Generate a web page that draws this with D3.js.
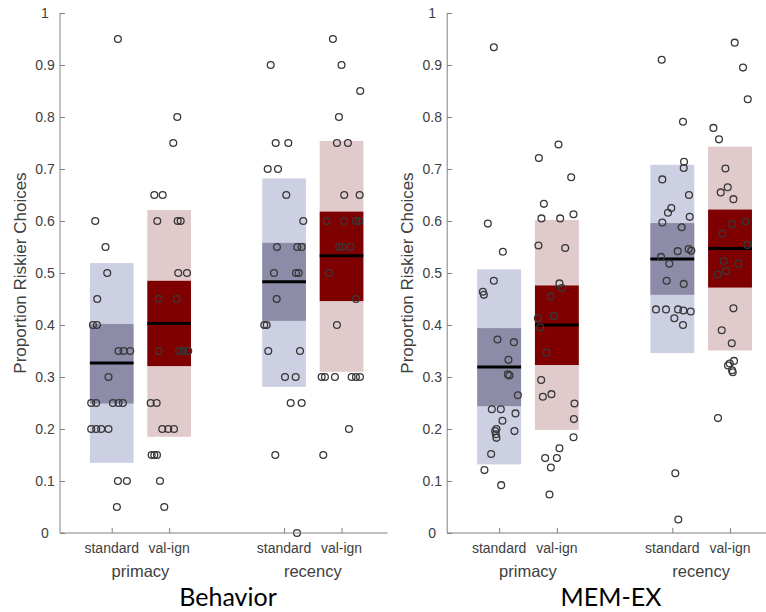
<!DOCTYPE html>
<html>
<head>
<meta charset="utf-8">
<script src="https://cdn.jsdelivr.net/npm/d3@7"></script>
<style>
  body { margin: 0; background: #fff; }
  svg { display: block; }
  svg text { font-family: "Liberation Sans", Arial, sans-serif; }
</style>
</head>
<body>
<svg id="chart" width="766" height="612"></svg>
<script>
// conditions in plotting order (x = 1, 2, 4, 5)
const conditions = ['standard', 'val-ign', 'standard', 'val-ign'];
const xPositions = [1, 2, 4, 5];
const groupLabels = ['primacy', 'recency'];
const groupCenters = [1.5, 4.5];
const yTicks = [0, 0.1, 0.2, 0.3, 0.4, 0.5, 0.6, 0.7, 0.8, 0.9, 1];

// Behavior: mean, inner band, outer band per condition
const behaviorMean = [0.327, 0.403, 0.483, 0.533];
const behaviorInner = [[0.249, 0.402], [0.321, 0.485], [0.408, 0.558], [0.446, 0.618]];
const behaviorOuter = [[0.135, 0.519], [0.185, 0.621], [0.281, 0.682], [0.310, 0.754]];

// MEM-EX
const memexMean = [0.319, 0.400, 0.527, 0.547];
const memexInner = [[0.244, 0.394], [0.323, 0.476], [0.458, 0.596], [0.472, 0.622]];
const memexOuter = [[0.132, 0.507], [0.198, 0.602], [0.346, 0.708], [0.351, 0.743]];

// individual subjects: [jittered x, proportion]
const behaviorPoints = [
  // standard / primacy
  [1.108, 0.95], [0.713, 0.6], [0.892, 0.55], [0.922, 0.5], [0.748, 0.45], [0.673, 0.4], [0.743, 0.4],
  [1.118, 0.35], [1.205, 0.35], [1.322, 0.35], [0.944, 0.3], [0.643, 0.25], [0.730, 0.25], [1.021, 0.25],
  [1.118, 0.25], [1.195, 0.25], [0.643, 0.2], [0.730, 0.2], [0.817, 0.2], [0.944, 0.2], [1.108, 0.1],
  [1.264, 0.1], [1.09, 0.05],
  // val-ign / primacy
  [2.141, 0.8], [2.071, 0.75], [1.741, 0.65], [1.887, 0.65], [1.793, 0.6], [2.148, 0.6], [2.2, 0.6],
  [2.158, 0.5], [2.31, 0.5], [1.817, 0.45], [2.131, 0.45], [1.817, 0.35], [2.176, 0.35], [2.245, 0.35],
  [2.332, 0.35], [1.678, 0.25], [1.782, 0.25], [1.88, 0.2], [1.984, 0.2], [2.084, 0.2], [1.695, 0.15],
  [1.741, 0.15], [1.788, 0.15], [1.84, 0.1], [1.915, 0.05],
  // standard / recency
  [3.767, 0.9], [3.854, 0.75], [4.073, 0.75], [3.715, 0.7], [3.894, 0.7], [4.038, 0.65], [4.334, 0.6],
  [3.876, 0.55], [4.23, 0.55], [4.306, 0.55], [3.824, 0.5], [4.207, 0.5], [4.254, 0.5], [3.871, 0.45],
  [3.655, 0.4], [3.697, 0.4], [3.725, 0.35], [4.277, 0.35], [4.016, 0.3], [4.202, 0.3], [4.115, 0.25],
  [4.306, 0.25], [3.847, 0.15], [4.225, 0.0],
  // val-ign / recency
  [4.85, 0.95], [5.0, 0.9], [5.325, 0.85], [4.955, 0.8], [4.92, 0.75], [5.111, 0.75], [5.047, 0.65],
  [5.315, 0.65], [4.741, 0.6], [5.047, 0.6], [5.251, 0.6], [5.308, 0.6], [4.96, 0.55], [5.019, 0.55],
  [5.158, 0.55], [4.781, 0.5], [5.251, 0.45], [4.92, 0.4], [4.654, 0.3], [4.711, 0.3], [4.885, 0.3],
  [5.176, 0.3], [5.251, 0.3], [5.32, 0.3], [5.129, 0.2], [4.682, 0.15]
];

const memexPoints = [
  // standard / primacy
  [0.908, 0.934], [0.804, 0.595], [1.064, 0.541], [0.908, 0.485], [0.718, 0.464], [0.735, 0.458],
  [0.971, 0.372], [1.255, 0.367], [1.161, 0.333], [1.151, 0.305], [1.179, 0.303], [1.324, 0.265],
  [0.873, 0.238], [1.029, 0.238], [1.283, 0.230], [1.057, 0.216], [0.953, 0.2], [0.931, 0.196],
  [0.943, 0.19], [0.953, 0.183], [1.265, 0.196], [0.861, 0.152], [0.745, 0.121], [1.035, 0.092],
  // val-ign / primacy
  [2.028, 0.747], [1.688, 0.721], [2.248, 0.684], [1.775, 0.633], [1.733, 0.605], [2.057, 0.605],
  [2.288, 0.613], [1.681, 0.553], [2.144, 0.548], [2.045, 0.48], [2.087, 0.471], [1.896, 0.455],
  [1.948, 0.417], [1.671, 0.413], [1.711, 0.395], [1.82, 0.347], [1.728, 0.294], [1.757, 0.262],
  [1.906, 0.267], [2.305, 0.249], [2.295, 0.219], [2.288, 0.184], [2.045, 0.163], [1.797, 0.144],
  [2.0, 0.144], [1.896, 0.126], [1.872, 0.074],
  // standard / recency
  [3.816, 0.91], [4.185, 0.791], [4.203, 0.714], [4.198, 0.702], [3.827, 0.68], [4.289, 0.65],
  [3.983, 0.625], [3.925, 0.616], [4.302, 0.608], [3.827, 0.597], [4.163, 0.588], [4.284, 0.546],
  [4.329, 0.543], [4.094, 0.542], [3.804, 0.531], [3.948, 0.518], [3.903, 0.485], [4.198, 0.479],
  [3.717, 0.43], [3.891, 0.43], [4.099, 0.43], [4.191, 0.428], [4.319, 0.426], [4.035, 0.413],
  [4.185, 0.4], [4.052, 0.115], [4.104, 0.026],
  // val-ign / recency
  [5.081, 0.943], [5.225, 0.895], [5.307, 0.834], [4.712, 0.779], [4.809, 0.757], [4.92, 0.701],
  [4.96, 0.665], [4.839, 0.655], [5.059, 0.642], [5.267, 0.599], [5.035, 0.594], [4.868, 0.576],
  [5.302, 0.554], [4.891, 0.523], [5.146, 0.518], [4.931, 0.504], [4.787, 0.497], [5.059, 0.432],
  [4.856, 0.39], [5.03, 0.365], [5.069, 0.331], [4.995, 0.326], [4.965, 0.322], [5.035, 0.313],
  [5.047, 0.309], [4.792, 0.221]
];

const panels = [
  { title: 'Behavior', mean: behaviorMean, inner: behaviorInner, outer: behaviorOuter, points: behaviorPoints,
    x0: 60, x1: 387.5, titleX: 228 },
  { title: 'MEM-EX', mean: memexMean, inner: memexInner, outer: memexOuter, points: memexPoints,
    x0: 447.2, x1: 776.2, titleX: 611 }
];

const outerColor = ['#cdcfe2', '#e0cacc'];
const innerColor = ['#8d8ca8', '#7f0000'];
const boxHalf = 0.38;
const textColor = '#404040';
const axisColor = '#808080';

const svg = d3.select('#chart');
const y = d3.scaleLinear().domain([0, 1]).range([533, 13]);

panels.forEach(p => {
  const x = d3.scaleLinear().domain([0.1, 5.8]).range([p.x0, p.x1]);
  const g = svg.append('g');

  // outer (light) bands
  g.selectAll('rect.outer')
    .data(xPositions)
    .enter()
    .append('rect')
    .attr('x', (d) => x(d - boxHalf))
    .attr('width', (d) => x(d + boxHalf) - x(d - boxHalf))
    .attr('y', (d, i) => y(p.outer[i][1]))
    .attr('height', (d, i) => y(p.outer[i][0]) - y(p.outer[i][1]))
    .attr('fill', (d, i) => outerColor[i % 2]);

  // inner (dark) bands
  g.selectAll('rect.inner')
    .data(xPositions)
    .enter()
    .append('rect')
    .attr('x', (d) => x(d - boxHalf))
    .attr('width', (d) => x(d + boxHalf) - x(d - boxHalf))
    .attr('y', (d, i) => y(p.inner[i][1]))
    .attr('height', (d, i) => y(p.inner[i][0]) - y(p.inner[i][1]))
    .attr('fill', (d, i) => innerColor[i % 2]);

  // mean lines
  g.selectAll('line.mean')
    .data(xPositions)
    .enter()
    .append('line')
    .attr('x1', (d) => x(d - boxHalf))
    .attr('x2', (d) => x(d + boxHalf))
    .attr('y1', (d, i) => y(p.mean[i]))
    .attr('y2', (d, i) => y(p.mean[i]))
    .attr('stroke', '#000')
    .attr('stroke-width', 3);

  // subjects
  g.selectAll('circle')
    .data(p.points)
    .enter()
    .append('circle')
    .attr('cx', (d) => x(d[0]))
    .attr('cy', (d) => y(d[1]))
    .attr('r', 3.4)
    .attr('fill', 'none')
    .attr('stroke', '#383838')
    .attr('stroke-width', 1.3);

  // y axis (ticks inward)
  const yAxis = g.append('g')
    .attr('transform', `translate(${p.x0},0)`)
    .call(d3.axisRight(y).tickValues(yTicks).tickSize(5).tickFormat(d3.format('~g')));
  yAxis.attr('font-family', null);
  yAxis.select('.domain').attr('stroke', axisColor).attr('d', `M0,${y(0)}V${y(1)}`);
  yAxis.selectAll('.tick line').attr('stroke', axisColor);
  yAxis.selectAll('.tick text')
    .attr('x', -15)
    .attr('text-anchor', 'middle')
    .attr('fill', textColor)
    .style('font-size', '14px');

  // x axis (ticks inward)
  const xAxis = g.append('g')
    .attr('transform', `translate(0,${y(0)})`)
    .call(d3.axisTop(x).tickValues(xPositions).tickSize(5).tickFormat(''));
  xAxis.select('.domain').attr('stroke', axisColor).attr('d', `M${p.x0},0H${p.x1}`);
  xAxis.selectAll('.tick line').attr('stroke', axisColor);

  g.selectAll('text.cond')
    .data(xPositions)
    .enter()
    .append('text')
    .attr('x', (d) => x(d))
    .attr('y', 553)
    .attr('text-anchor', 'middle')
    .attr('fill', textColor)
    .style('font-size', '14px')
    .text((d, i) => conditions[i]);

  g.selectAll('text.group')
    .data(groupCenters)
    .enter()
    .append('text')
    .attr('x', (d) => x(d))
    .attr('y', 577)
    .attr('text-anchor', 'middle')
    .attr('fill', textColor)
    .style('font-size', '16.5px')
    .text((d, i) => groupLabels[i]);

  g.append('text')
    .attr('transform', `translate(${p.x0 - 40},${y(0.5)}) rotate(-90)`)
    .attr('text-anchor', 'middle')
    .attr('dy', '0.35em')
    .attr('fill', textColor)
    .style('font-size', '17px')
    .text('Proportion Riskier Choices');

  g.append('text')
    .attr('x', p.titleX)
    .attr('y', 606)
    .attr('text-anchor', 'middle')
    .attr('fill', '#000')
    .style('font-family', 'Lato, "Open Sans", sans-serif')
    .style('font-size', '25px')
    .text(p.title);
});
</script>
</body>
</html>
